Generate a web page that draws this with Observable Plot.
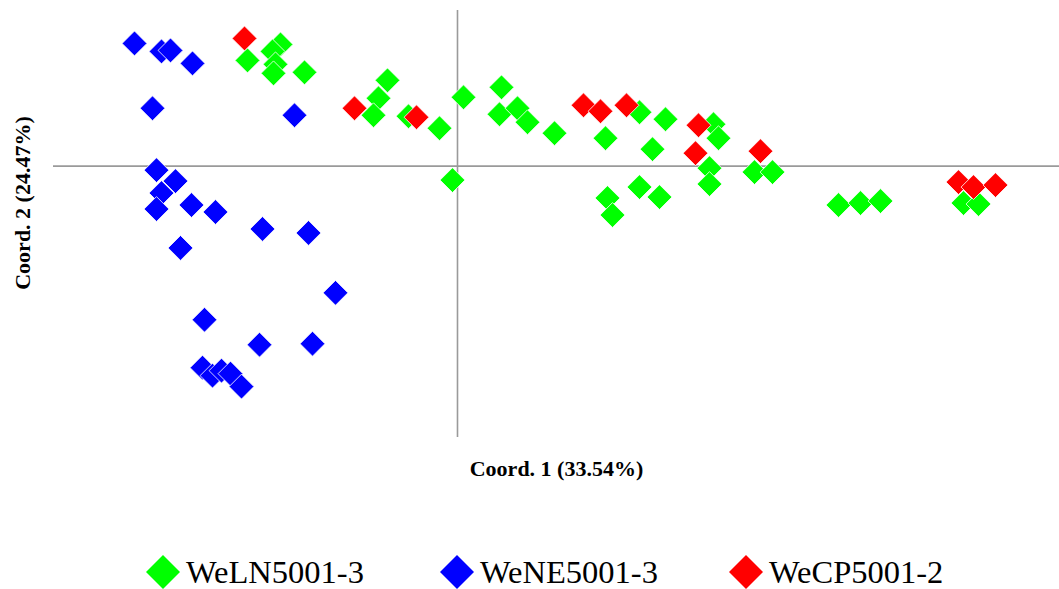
<!DOCTYPE html>
<html>
<head>
<meta charset="utf-8">
<script src="https://cdn.jsdelivr.net/npm/d3@7"></script>
<script src="https://cdn.jsdelivr.net/npm/@observablehq/plot@0.6"></script>
<style>
  html, body { margin: 0; padding: 0; background: #fff; }
  #wrap { width: 1059px; height: 589px; position: relative; overflow: hidden; }
  #legend { position: absolute; left: 0; top: 500px; width: 1059px; height: 89px; font-family: "Liberation Serif", "Times New Roman", serif; font-size: 32.5px; color: #000; }
  .item { position: absolute; top: 55px; height: 34px; display: flex; align-items: center; }
  .item svg { display: block; margin-right: 6px; }
  .item span { line-height: 34px; position: relative; top: 0px; }
</style>
</head>
<body>
<div id="wrap"><div id="chart"></div><div id="legend"></div></div>
<script>
// Series (Coord. 1, Coord. 2)
const groups = ["WeLN5001-3", "WeNE5001-3", "WeCP5001-2"];
const groupColors = ["#00ff00", "#0000ff", "#ff0000"];

const weLN_x = [-2.10, -1.77, -1.85, -1.82, -1.84, -1.53, -0.70, -0.79, -0.84, -0.49, -0.18, 0.06, -0.05,
  0.44, 0.42, 0.60, 0.70, 0.97, 1.48, 1.82, 2.08, 1.95, 2.56, 2.61, 2.52, 2.52, 2.97, 3.15,
  1.50, 1.55, 1.82, 2.02, 3.81, 4.03, 4.23, 5.06, 5.21];
const weLN_y = [1.06, 1.22, 1.15, 1.02, 0.93, 0.94, 0.86, 0.68, 0.51, 0.50, 0.38, 0.69, -0.14,
  0.79, 0.52, 0.58, 0.44, 0.33, 0.28, 0.54, 0.47, 0.17, 0.42, 0.28, -0.02, -0.18, -0.06, -0.06,
  -0.32, -0.49, -0.21, -0.31, -0.39, -0.37, -0.35, -0.37, -0.38];

const weNE_x = [-3.23, -2.96, -2.87, -2.65, -3.05, -1.63,
  -3.01, -2.82, -2.96, -3.01, -2.66, -2.42, -1.95, -1.49, -2.77, -1.22,
  -2.53, -1.98, -1.45, -2.55, -2.45, -2.36, -2.27, -2.16];
const weNE_y = [1.23, 1.15, 1.16, 1.03, 0.58, 0.51,
  -0.04, -0.15, -0.27, -0.43, -0.39, -0.46, -0.63, -0.67, -0.82, -1.27,
  -1.54, -1.79, -1.78, -2.02, -2.10, -2.05, -2.08, -2.21];

const weCP_x = [-2.13, -1.03, -0.41, 1.26, 1.43, 1.69, 2.41, 2.38, 3.03, 5.01, 5.16, 5.38];
const weCP_y = [1.28, 0.58, 0.49, 0.61, 0.55, 0.61, 0.41, 0.13, 0.15, -0.16, -0.21, -0.19];

const xLabel = "Coord. 1 (33.54%)";
const yLabel = "Coord. 2 (24.47%)";

const xs = [weLN_x, weNE_x, weCP_x];
const ys = [weLN_y, weNE_y, weCP_y];
const points = groups.flatMap((g, i) => xs[i].map((x, j) => ({group: g, x, y: ys[i][j]})));

const plot = Plot.plot({
  width: 1059,
  height: 500,
  marginTop: 10,
  marginBottom: 63,
  marginLeft: 53,
  marginRight: 0,
  style: {background: "transparent", fontFamily: "'Liberation Serif', 'Times New Roman', serif"},
  x: {domain: [-4.04, 6.02], axis: null},
  y: {domain: [-2.72, 1.56], axis: null},
  color: {domain: groups, range: groupColors},
  marks: [
    Plot.ruleY([0], {stroke: "#9a9a9a", strokeWidth: 1.6}),
    Plot.ruleX([0], {stroke: "#9a9a9a", strokeWidth: 1.6}),
    Plot.dot(points, {x: "x", y: "y", fill: "group", symbol: "diamond2", r: 11.2, stroke: "#ffffff", strokeWidth: 0.8}),
    Plot.text([xLabel], {frameAnchor: "bottom", dy: 38, fontSize: 22, fontWeight: "bold", fill: "#000"}),
    Plot.text([yLabel], {frameAnchor: "left", textAnchor: "middle", rotate: -90, dx: -31, dy: -21, fontSize: 22, fontWeight: "bold", fill: "#000"})
  ]
});
document.getElementById("chart").appendChild(plot);

// Legend
const legendLefts = [146, 440, 729];
const legend = document.getElementById("legend");
groups.forEach((g, i) => {
  const item = document.createElement("div");
  item.className = "item";
  item.style.left = legendLefts[i] + "px";
  item.innerHTML = `<svg width="34" height="34" viewBox="0 0 34 34"><polygon points="17,0 34,17 17,34 0,17" fill="${groupColors[i]}"/></svg><span>${g}</span>`;
  legend.appendChild(item);
});
</script>
</body>
</html>
